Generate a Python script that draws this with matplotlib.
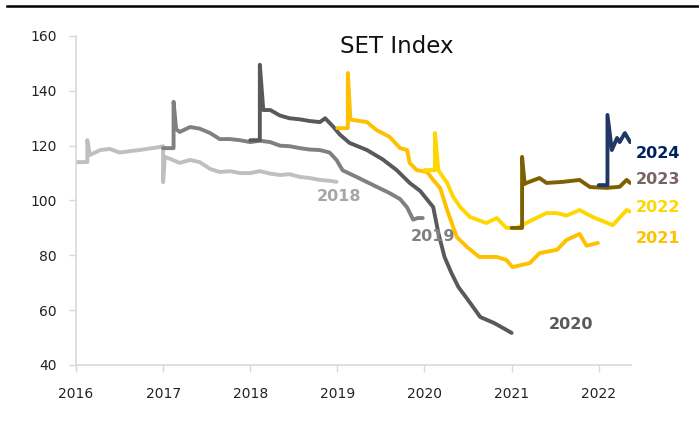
import matplotlib
matplotlib.use("Agg")
import matplotlib.pyplot as plt
from matplotlib.lines import Line2D

# decimal-year x positions and index values
x_2018 = [2016.00, 2016.13, 2016.13, 2016.16, 2016.22, 2016.28, 2016.39, 2016.50, 2016.62,
          2016.73, 2016.85, 2016.96, 2017.00, 2017.00, 2017.02, 2017.08, 2017.19, 2017.31,
          2017.42, 2017.54, 2017.65, 2017.77, 2017.88, 2018.00, 2018.11, 2018.23, 2018.34,
          2018.45, 2018.57, 2018.68, 2018.80, 2018.91, 2018.99]
y_2018 = [114.0, 114.0, 122.0, 116.6, 117.5, 118.4, 118.8, 117.5, 118.0,
          118.4, 119.0, 119.5, 119.8, 106.7, 115.9, 115.2, 113.7, 114.8,
          114.0, 111.5, 110.4, 110.7, 110.0, 110.0, 110.7, 109.8, 109.3,
          109.6, 108.6, 108.2, 107.5, 107.2, 106.8]

x_2019 = [2017.00, 2017.12, 2017.12, 2017.15, 2017.19, 2017.31, 2017.42, 2017.54, 2017.65,
          2017.77, 2017.88, 2018.00, 2018.11, 2018.23, 2018.34, 2018.45, 2018.57, 2018.68,
          2018.80, 2018.91, 2018.99, 2019.06, 2019.22, 2019.45, 2019.60, 2019.72, 2019.80,
          2019.87, 2019.92, 2019.98]
y_2019 = [119.1, 119.1, 136.0, 126.0, 125.0, 126.8, 126.2, 124.6, 122.4,
          122.4, 122.0, 121.3, 121.8, 121.3, 120.0, 119.8, 119.1, 118.6,
          118.4, 117.5, 114.8, 111.0, 108.6, 105.0, 102.7, 100.5, 97.5,
          93.0, 93.6, 93.6]

x_2020 = [2018.00, 2018.11, 2018.11, 2018.15, 2018.23, 2018.34, 2018.45, 2018.57, 2018.68,
          2018.80, 2018.86, 2018.95, 2019.03, 2019.14, 2019.34, 2019.52, 2019.68, 2019.83,
          2019.95, 2020.10, 2020.16, 2020.23, 2020.31, 2020.39, 2020.50, 2020.64, 2020.80,
          2020.94, 2021.00]
y_2020 = [122.0, 122.0, 149.5, 133.0, 133.0, 131.0, 130.0, 129.6, 129.0,
          128.6, 130.0, 127.0, 124.0, 121.0, 118.4, 115.0, 111.1, 106.4,
          103.5, 97.6, 88.0, 79.4, 73.5, 68.4, 63.7, 57.5, 55.3,
          52.8, 51.7]

x_2021 = [2019.00, 2019.12, 2019.12, 2019.15, 2019.34, 2019.45, 2019.60, 2019.72, 2019.80,
          2019.83, 2019.91, 2020.03, 2020.10, 2020.18, 2020.26, 2020.37, 2020.49, 2020.63,
          2020.83, 2020.94, 2021.01, 2021.21, 2021.32, 2021.52, 2021.63, 2021.78, 2021.86,
          2021.99]
y_2021 = [126.4, 126.4, 146.5, 129.5, 128.6, 125.7, 123.2, 119.1, 118.4,
          113.7, 111.1, 110.4, 107.5, 104.5, 96.5, 86.7, 83.0, 79.4,
          79.4, 78.3, 75.7, 77.2, 80.8, 82.0, 85.6, 87.8, 83.5,
          84.5]

x_2022 = [2020.00, 2020.12, 2020.12, 2020.16, 2020.26, 2020.33, 2020.41, 2020.52, 2020.71,
          2020.83, 2020.94, 2021.06, 2021.21, 2021.40, 2021.52, 2021.63, 2021.78, 2021.93,
          2022.16, 2022.32, 2022.36]
y_2022 = [111.1, 111.1, 124.6, 111.0, 106.4, 101.3, 97.6, 94.0, 91.8,
          93.6, 90.0, 90.0, 92.5, 95.4, 95.4, 94.5, 96.5, 94.0,
          91.0, 96.5, 96.0]

x_2023 = [2021.00, 2021.12, 2021.12, 2021.15, 2021.17, 2021.32, 2021.40, 2021.59, 2021.78,
          2021.90, 2022.09, 2022.24, 2022.32, 2022.36]
y_2023 = [90.0, 90.0, 115.9, 106.0, 106.4, 108.2, 106.4, 106.8, 107.5,
          104.9, 104.6, 105.0, 107.5, 106.4]

x_2024 = [2022.00, 2022.10, 2022.10, 2022.15, 2022.21, 2022.24, 2022.30, 2022.36]
y_2024 = [105.6, 105.6, 131.2, 118.4, 122.8, 121.3, 124.6, 121.3]

series = [
    ("2018", x_2018, y_2018, "#BFBFBF", "#A6A6A6", 2019.02, 101.3, "center"),
    ("2019", x_2019, y_2019, "#808080", "#808080", 2020.10, 86.7, "center"),
    ("2020", x_2020, y_2020, "#595959", "#595959", 2021.68, 54.6, "center"),
    ("2021", x_2021, y_2021, "#FFC000", "#FFC000", 2022.43, 86.0, "left"),
    ("2022", x_2022, y_2022, "#FFD700", "#FFD700", 2022.43, 97.3, "left"),
    ("2023", x_2023, y_2023, "#7F6000", "#756461", 2022.43, 107.8, "left"),
    ("2024", x_2024, y_2024, "#203864", "#002060", 2022.43, 117.3, "left"),
]

plt.rcParams["font.family"] = ["DejaVu Sans"]

fig = plt.figure(figsize=(6.99, 4.28), dpi=100)
ax = fig.add_axes([0.1087, 0.1472, 0.794, 0.7687])

for name, xs, ys, lc, tc, tx, ty, ha in series:
    ax.plot(xs, ys, color=lc, lw=2.8, solid_joinstyle="round", solid_capstyle="round")
    ax.text(tx, ty, name, color=tc, fontsize=11.5, fontweight="bold",
            ha=ha, va="center", clip_on=False)

ax.set_xlim(2016, 2022.37)
ax.set_ylim(40, 160)
ax.set_xticks(range(2016, 2023))
ax.set_yticks(range(40, 161, 20))
ax.tick_params(axis="both", colors="#D9D9D9", labelcolor="#222222",
               labelsize=10, length=5, width=1)
ax.tick_params(axis="x", pad=11)
ax.tick_params(axis="y", pad=9)
for s in ["top", "right"]:
    ax.spines[s].set_visible(False)
for s in ["left", "bottom"]:
    ax.spines[s].set_color("#D9D9D9")
    ax.spines[s].set_linewidth(1.2)

ax.text(0.578, 0.967, "SET Index", transform=ax.transAxes, fontsize=16.5,
        ha="center", va="center", color="#111111")

# page rule along the top edge
fig.add_artist(Line2D([0.01, 1.0], [0.986, 0.986], transform=fig.transFigure,
                      color="black", lw=1.8))

fig.savefig("out.png", dpi=100)
